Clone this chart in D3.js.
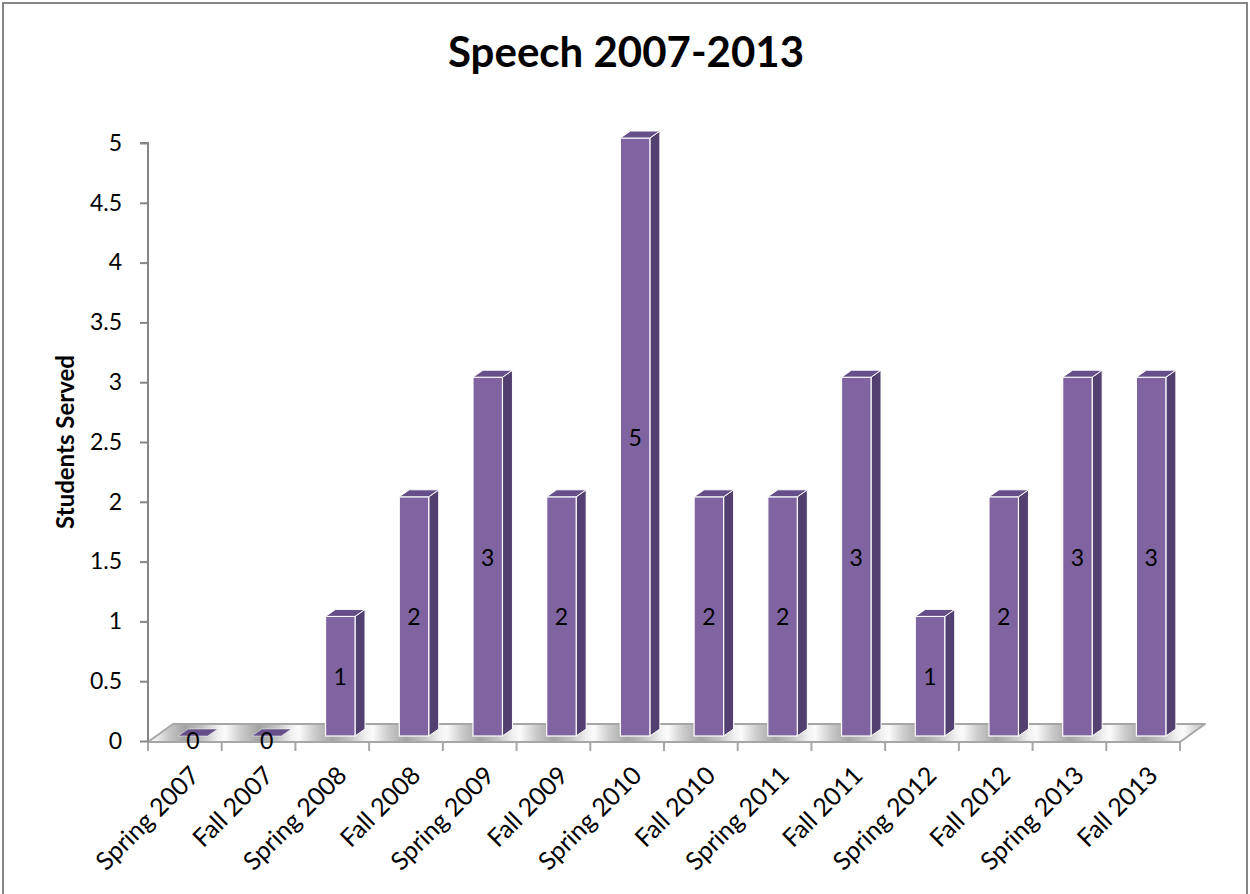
<!DOCTYPE html>
<html>
<head>
<meta charset="utf-8">
<script src="https://cdn.jsdelivr.net/npm/d3@7"></script>
<style>
  html, body { margin: 0; padding: 0; background: #fff; }
  svg { display: block; }
  text { font-family: Lato, "Open Sans", sans-serif; fill: #000; }
</style>
</head>
<body>
<svg id="chart" width="1250" height="894"></svg>
<script>
// Speech students served per term
const categories = ["Spring 2007", "Fall 2007", "Spring 2008", "Fall 2008", "Spring 2009",
  "Fall 2009", "Spring 2010", "Fall 2010", "Spring 2011", "Fall 2011",
  "Spring 2012", "Fall 2012", "Spring 2013", "Fall 2013"];
const studentsServed = [0, 0, 1, 2, 3, 2, 5, 2, 2, 3, 1, 2, 3, 3];
const yTicks = [0, 0.5, 1, 1.5, 2, 2.5, 3, 3.5, 4, 4.5, 5];
const chartTitle = "Speech 2007-2013";
const yTitle = "Students Served";

const svg = d3.select("#chart");

// outer chart border
svg.append("rect")
  .attr("x", 3).attr("y", 3).attr("width", 1244).attr("height", 900)
  .attr("fill", "none").attr("stroke", "#868686").attr("stroke-width", 2);

const x = d3.scaleBand().domain(categories).range([148, 1180]).padding(0);
const y = d3.scaleLinear().domain([0, 5]).range([741, 143]);

// 3D projection offsets
const floorDX = 25, floorDY = -18;   // depth of the floor slab
const barShiftX = 8, barShiftY = -5; // bar front plane relative to the floor front edge
const depthX = 10, depthY = -7;      // bar depth
const barW = x.bandwidth() * 0.4;

const defs = svg.append("defs");
const grad = defs.append("linearGradient")
  .attr("id", "floorGrad")
  .attr("gradientUnits", "userSpaceOnUse")
  .attr("x1", x(categories[0]) + x.bandwidth() * 0.5).attr("y1", 0)
  .attr("x2", x(categories[0]) + x.bandwidth() * 1.5).attr("y2", 0)
  .attr("spreadMethod", "repeat");
[[0, "#a4a4a4"], [0.25, "#c4c4c4"], [0.45, "#f0f0f0"], [0.55, "#fbfbfb"], [0.75, "#cdcdcd"], [1, "#a4a4a4"]]
  .forEach(([o, c]) => grad.append("stop").attr("offset", o).attr("stop-color", c));

// floor slab
const fx0 = x.range()[0], fx1 = x.range()[1], fy = y(0) + 1;
svg.append("path")
  .attr("d", `M${fx0},${fy} L${fx1},${fy} L${fx1 + floorDX},${fy + floorDY} L${fx0 + floorDX},${fy + floorDY} Z`)
  .attr("fill", "url(#floorGrad)")
  .attr("stroke", "#a6a6a6").attr("stroke-width", 2).attr("stroke-linejoin", "round");

// y axis
const yAxis = d3.axisLeft(y).tickValues(yTicks).tickSize(8).tickPadding(18)
  .tickFormat(d3.format("~g"));
const yg = svg.append("g").attr("transform", `translate(${fx0},0)`).call(yAxis);
yg.select(".domain").attr("stroke", "#868686").attr("stroke-width", 2)
  .attr("d", `M-8,${y(5)}H0V${fy}`);
yg.selectAll(".tick line").attr("stroke", "#868686").attr("stroke-width", 2);
yg.selectAll(".tick text").style("font-size", "23px").attr("fill", "#000")
  .style("font-family", "Lato, sans-serif");

// x axis ticks at category boundaries
const boundaries = categories.map(c => x(c)).concat([fx1]);
svg.append("g").selectAll("line").data(boundaries).join("line")
  .attr("x1", d => d).attr("x2", d => d)
  .attr("y1", fy).attr("y2", fy + 9)
  .attr("stroke", "#a6a6a6").attr("stroke-width", 2);

// bars
const bars = svg.append("g").selectAll("g").data(categories.map((c, i) => ({ c, v: studentsServed[i] }))).join("g");
bars.each(function (d) {
  const g = d3.select(this);
  const x0 = x(d.c) + x.bandwidth() / 2 + barShiftX - barW / 2;
  const x1 = x0 + barW;
  const yb = y(0) + barShiftY;
  const yt = y(d.v) + barShiftY;
  if (d.v > 0) {
    g.append("path") // side face
      .attr("d", `M${x1},${yt} L${x1 + depthX},${yt + depthY} L${x1 + depthX},${yb + depthY} L${x1},${yb} Z`)
      .attr("fill", "#524170").attr("stroke", "#fff").attr("stroke-width", 1);
    g.append("rect") // front face
      .attr("x", x0).attr("y", yt).attr("width", barW).attr("height", yb - yt)
      .attr("fill", "#8064a2").attr("stroke", "#fff").attr("stroke-width", 1.2);
  }
  g.append("path") // top face
    .attr("d", `M${x0},${yt} L${x1},${yt} L${x1 + depthX},${yt + depthY} L${x0 + depthX},${yt + depthY} Z`)
    .attr("fill", "#654f89").attr("stroke", "#fff").attr("stroke-width", d.v > 0 ? 1 : 0.5);
  g.append("text")
    .attr("x", (x0 + x1) / 2)
    .attr("y", d.v > 0 ? (yt + yb) / 2 : yb + 4)
    .attr("text-anchor", "middle").attr("dominant-baseline", "central")
    .style("font-size", "23px")
    .text(d.v);
});

// x category labels
svg.append("g").selectAll("text").data(categories).join("text")
  .attr("transform", d => `translate(${x(d) + x.bandwidth() / 2 + 9},${770}) rotate(-45)`)
  .attr("text-anchor", "end").attr("dominant-baseline", "central")
  .style("font-size", "25px")
  .text(d => d);

// titles
svg.append("text")
  .attr("x", 626).attr("y", 67)
  .attr("text-anchor", "middle")
  .style("font-size", "42px").style("font-weight", "bold")
  .text(chartTitle);

svg.append("text")
  .attr("transform", `translate(74,442) rotate(-90)`)
  .attr("text-anchor", "middle")
  .style("font-size", "24px").style("font-weight", "bold")
  .text(yTitle);
</script>
</body>
</html>
